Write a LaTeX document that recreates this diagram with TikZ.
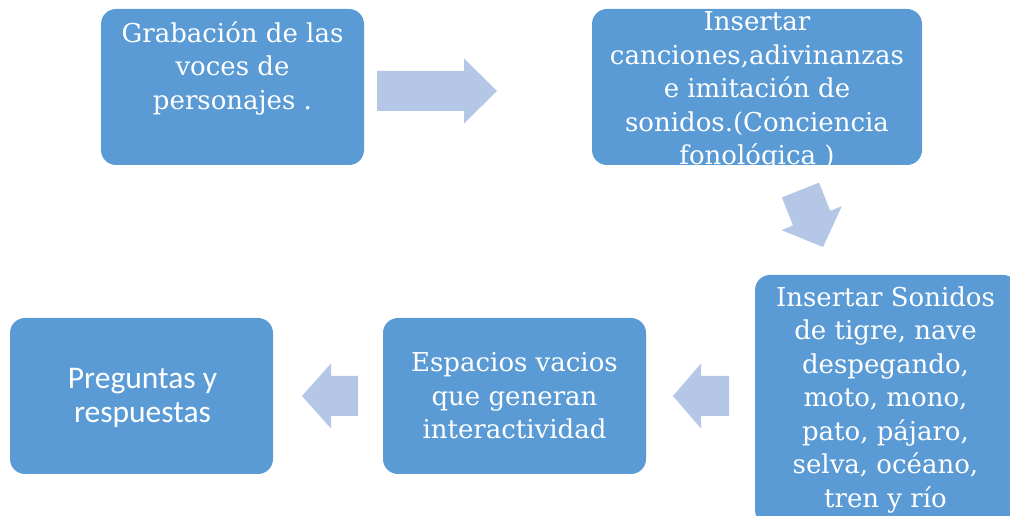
\documentclass[tikz,border=0pt]{standalone}
\usepackage{fontspec}
\setmainfont{DejaVu Serif}
\newfontfamily\calibrifont{Carlito}
\usetikzlibrary{calc}
\definecolor{boxblue}{HTML}{5B9BD5}
\definecolor{arrowblue}{HTML}{B4C7E7}
% block arrow: tail, tip, head length
\newcommand\blockarrow[3]{%
  \coordinate (neck) at ($(#2)!#3!(#1)$);
  \fill [arrowblue] ($(#1)!20pt!90:(#2)$) -- ($(neck)!20pt!90:(#2)$)
    -- ($(neck)!32.5pt!90:(#2)$) -- (#2) -- ($(neck)!32.5pt!-90:(#2)$)
    -- ($(neck)!20pt!-90:(#2)$) -- ($(#1)!20pt!-90:(#2)$) -- cycle;}

\begin{document}
\begin{tikzpicture}[x=1pt, y=1pt,
  box/.style={fill=boxblue, rounded corners=15pt, inner sep=0pt,
    minimum width=263pt, minimum height=156pt},
  boxtext/.style={text=white, align=center, inner sep=0pt,
    font=\fontsize{26}{33.5}\selectfont}]
  \clip (0,0) rectangle (1010,516);
  % boxes
  \node [box] (grab) at (232.5,429) {};
  \node [box, minimum width=330pt] (ins) at (757,429) {};
  \node [box, minimum height=250pt] (son) at (886.5,116) {};
  \node [box] (esp) at (514.5,120) {};
  \node [box] (preg) at (141.5,120) {};
  % texts
  \node [boxtext] (grabtext) at (grab) {Grabación de las\\voces de\\personajes .\\ \strut};
  \begin{scope}
    \clip [rounded corners=15pt] (ins.south west) rectangle (ins.north east);
    \node [boxtext] (instext) at ($(ins)+(0,-4)$) {Insertar\\canciones,adivinanzas\\e imitación de\\sonidos.(Conciencia\\fonológica )};
  \end{scope}
  \node [boxtext] (sontext) at ($(son)+(-1,0)$) {Insertar Sonidos\\de tigre, nave\\despegando,\\moto, mono,\\pato, pájaro,\\selva, océano,\\tren y río};
  \node [boxtext] (esptext) at (esp) {Espacios vacios\\que generan\\interactividad};
  \node [boxtext, font=\calibrifont\fontsize{31.5}{34}\selectfont] (pregtext) at ($(preg)+(1,-2)$) {Preguntas y\\respuestas};
  % arrows
  \coordinate (a1s) at (377,425);
  \coordinate (a1e) at (497,425);
  \coordinate (a2s) at (800.5,326);
  \coordinate (a2e) at (823,269);
  \coordinate (a3s) at (729,120);
  \coordinate (a3e) at (673,120);
  \coordinate (a4s) at (358,120);
  \coordinate (a4e) at (302,120);
  \blockarrow{a1s}{a1e}{33pt}
  \blockarrow{a2s}{a2e}{31pt}
  \blockarrow{a3s}{a3e}{28pt}
  \blockarrow{a4s}{a4e}{29pt}
\end{tikzpicture}
\end{document}
